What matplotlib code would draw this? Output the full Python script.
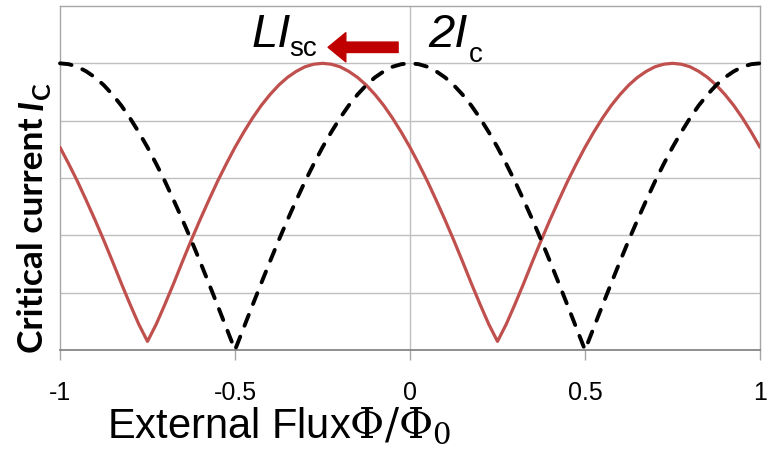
import matplotlib
matplotlib.use("Agg")
import matplotlib.pyplot as plt

# ---- data ----
flux = [-1.000, -0.975, -0.950, -0.925, -0.900, -0.875, -0.850, -0.825, -0.800, -0.775,
        -0.750, -0.725, -0.700, -0.675, -0.650, -0.625, -0.600, -0.575, -0.550, -0.525,
        -0.500, -0.475, -0.450, -0.425, -0.400, -0.375, -0.350, -0.325, -0.300, -0.275,
        -0.250, -0.225, -0.200, -0.175, -0.150, -0.125, -0.100, -0.075, -0.050, -0.025,
        0.000, 0.025, 0.050, 0.075, 0.100, 0.125, 0.150, 0.175, 0.200, 0.225,
        0.250, 0.275, 0.300, 0.325, 0.350, 0.375, 0.400, 0.425, 0.450, 0.475,
        0.500, 0.525, 0.550, 0.575, 0.600, 0.625, 0.650, 0.675, 0.700, 0.725,
        0.750, 0.775, 0.800, 0.825, 0.850, 0.875, 0.900, 0.925, 0.950, 0.975, 1.000]

# dashed black curve (2Ic)
ic_2ic = [1.000, 0.997, 0.988, 0.972, 0.951, 0.924, 0.891, 0.853, 0.809, 0.760,
          0.707, 0.649, 0.588, 0.522, 0.454, 0.383, 0.309, 0.233, 0.156, 0.078,
          0.000, 0.078, 0.156, 0.233, 0.309, 0.383, 0.454, 0.522, 0.588, 0.649,
          0.707, 0.760, 0.809, 0.853, 0.891, 0.924, 0.951, 0.972, 0.988, 0.997,
          1.000, 0.997, 0.988, 0.972, 0.951, 0.924, 0.891, 0.853, 0.809, 0.760,
          0.707, 0.649, 0.588, 0.522, 0.454, 0.383, 0.309, 0.233, 0.156, 0.078,
          0.000, 0.078, 0.156, 0.233, 0.309, 0.383, 0.454, 0.522, 0.588, 0.649,
          0.707, 0.760, 0.809, 0.853, 0.891, 0.924, 0.951, 0.972, 0.988, 0.997, 1.000]

# solid red curve (shifted by L*Isc)
ic_shifted = [0.707, 0.649, 0.588, 0.522, 0.454, 0.383, 0.309, 0.233, 0.160, 0.090,
              0.030, 0.090, 0.160, 0.233, 0.309, 0.383, 0.454, 0.522, 0.588, 0.649,
              0.707, 0.760, 0.809, 0.853, 0.891, 0.924, 0.951, 0.972, 0.988, 0.997,
              1.000, 0.997, 0.988, 0.972, 0.951, 0.924, 0.891, 0.853, 0.809, 0.760,
              0.707, 0.649, 0.588, 0.522, 0.454, 0.383, 0.309, 0.233, 0.160, 0.090,
              0.030, 0.090, 0.160, 0.233, 0.309, 0.383, 0.454, 0.522, 0.588, 0.649,
              0.707, 0.760, 0.809, 0.853, 0.891, 0.924, 0.951, 0.972, 0.988, 0.997,
              1.000, 0.997, 0.988, 0.972, 0.951, 0.924, 0.891, 0.853, 0.809, 0.760, 0.707]

x_ticks = [-1, -0.5, 0, 0.5, 1]
x_tick_labels = ["-1", "-0.5", "0", "0.5", "1"]
y_grid = [0.0, 0.2, 0.4, 0.6, 0.8, 1.0, 1.2]

W, H = 768, 450
fig = plt.figure(figsize=(W / 100, H / 100), dpi=100)
ax = fig.add_axes([60 / W, 1 - 350 / H, 700 / W, 344 / H])

ax.set_xlim(-1, 1)
ax.set_ylim(y_grid[0], y_grid[-1])

# grid
for yv in y_grid[1:-1]:
    ax.axhline(yv, color="#BFBFBF", lw=1.0, zorder=1)
ax.axvline(0, color="#BFBFBF", lw=1.0, zorder=1)

# curves
ax.plot(flux, ic_shifted, color="#C0504D", lw=2.3, solid_joinstyle="round",
        solid_capstyle="round", zorder=3)
ax.plot(flux, ic_2ic, color="black", lw=2.8, dashes=(3.0, 3.0),
        dash_capstyle="round", zorder=4, clip_on=False)

# spines
for s in ["top", "left", "right"]:
    ax.spines[s].set_color("#A6A6A6")
    ax.spines[s].set_linewidth(1.0)
ax.spines["bottom"].set_color("#868686")
ax.spines["bottom"].set_linewidth(1.3)

ax.set_yticks([])
ax.set_xticks(x_ticks)
ax.set_xticklabels(x_tick_labels, fontfamily="Liberation Sans", fontsize=18)
ax.tick_params(axis="x", direction="out", length=7.5, width=1.0,
               color="#A6A6A6", pad=14.5)

# arrow
ax.annotate("", xy=(-0.234, 1.056), xytext=(-0.034, 1.056),
            arrowprops=dict(arrowstyle="simple,head_length=0.85,head_width=1.4,tail_width=0.5",
                            mutation_scale=15, color="#C00000", shrinkA=0, shrinkB=0),
            zorder=5)

def ft(px, py, s, **kw):
    return fig.text(px / W, 1 - py / H, s, **kw)

def right_px(t):
    fig.canvas.draw()
    return t.get_window_extent().x1

# annotations: main part + subscript placed just after it
a1 = ft(252, 47, "LI", fontfamily="Liberation Sans", style="italic",
        fontsize=34, va="baseline", ha="left")
ft(right_px(a1) - 2, 56, "sc", fontfamily="Liberation Sans", fontsize=20,
   va="baseline", ha="left")
a2 = ft(428, 47, "2I", fontfamily="Liberation Sans", style="italic",
        fontsize=34, va="baseline", ha="left")
ft(right_px(a2) + 1, 62, "c", fontfamily="Liberation Sans", fontsize=20,
   va="baseline", ha="left")

# x label
ft(107, 437, r"External Flux$\Phi/\Phi_0$", fontfamily="Liberation Sans",
   fontsize=30, math_fontfamily="dejavuserif", va="baseline", ha="left")

# y label (rotated, built from pieces)
base_x = 43
t1 = ft(base_x, 353, "Critical current", fontfamily="Lato", fontweight="bold",
        fontsize=25.5, rotation=90, rotation_mode="anchor", ha="left", va="baseline")
fig.canvas.draw()
top_px = H - t1.get_window_extent().y1
t2 = ft(base_x, top_px - 7, "I", fontfamily="Lato", fontweight="bold",
        style="italic", fontsize=25.5, rotation=90, rotation_mode="anchor",
        ha="left", va="baseline")
fig.canvas.draw()
top2 = H - t2.get_window_extent().y1
ft(base_x + 7, top2 - 1, "C", fontfamily="Lato", fontweight="bold",
   fontsize=18, rotation=90, rotation_mode="anchor", ha="left", va="baseline")

fig.savefig("out.png", dpi=100)
